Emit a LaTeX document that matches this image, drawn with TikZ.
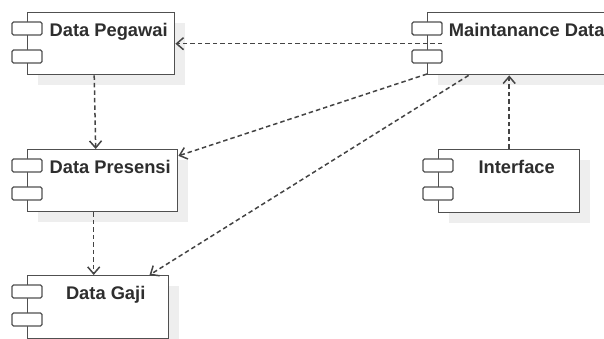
\documentclass[tikz,border=0pt]{standalone}
\usepackage{fontspec}
\setmainfont{Liberation Sans}
\usetikzlibrary{arrows.meta,positioning,calc,shadows}

\definecolor{umlline}{HTML}{505050}
\definecolor{umltext}{HTML}{2E2E2E}
\definecolor{umlshadow}{HTML}{EEEEEE}

% component box with its two side tabs and its name
\newcommand{\comp}[6]{%
  \node[compbox, minimum width=#4pt, minimum height=#5pt] (#1) at (#2,#3) {};
  \node[tab] (#1-t1) at ([yshift=-16.5pt]#1.north west) {};
  \node[tab] (#1-t2) at ([yshift=-44.5pt]#1.north west) {};
  \node[comptext] (#1-l) at ([xshift=7.5pt,yshift=-24.5pt]#1.north) {#6};
}

\begin{document}
\begin{tikzpicture}[
  x=1pt, y=-1pt,
  >={Straight Barb[length=7pt,width=12pt]},
  compbox/.style={draw=umlline, line width=1.4pt, fill=white, anchor=north west, inner sep=0pt,
    drop shadow={shadow xshift=10pt, shadow yshift=-10pt, fill=umlshadow, opacity=1}},
  tab/.style={draw=umlline, line width=1.4pt, fill=white, rounded corners=1.5pt,
    minimum width=30pt, minimum height=13pt, inner sep=0pt},
  comptext/.style={anchor=base, font=\bfseries\fontsize{18.3}{20}\selectfont, text=umltext, inner sep=0pt},
  dep/.style={->, draw=umlline!85!black, line width=1.5pt, dash pattern=on 4.5pt off 3pt},
]
\useasboundingbox (0,0) rectangle (604,339);
\clip (0,0) rectangle (604,339);

% --- Components ------------------------------------------------
\comp{peg}{27}{12}{147}{62}{Data Pegawai}
\comp{pres}{27}{149}{150}{62}{Data Presensi}
\comp{gaji}{27}{275}{141}{63}{Data Gaji}
\comp{maint}{427}{12}{183}{62}{Maintanance Data}
\comp{intf}{438}{149}{141}{63}{Interface}

% --- Dependencies ----------------------------------------------
\draw[dep, shorten <=-15pt] (maint) -- (peg);
\draw[dep] (maint) -- (pres);
\draw[dep] (maint) -- (gaji);
\draw[dep] ([xshift=-7pt]peg.south) -- ([xshift=-7pt]pres.north);
\draw[dep] ([xshift=-9pt]pres.south) -- ([xshift=-4.5pt]gaji.north);
\draw[dep] (intf.north) -- (intf.north |- maint.south);

\end{tikzpicture}
\end{document}
